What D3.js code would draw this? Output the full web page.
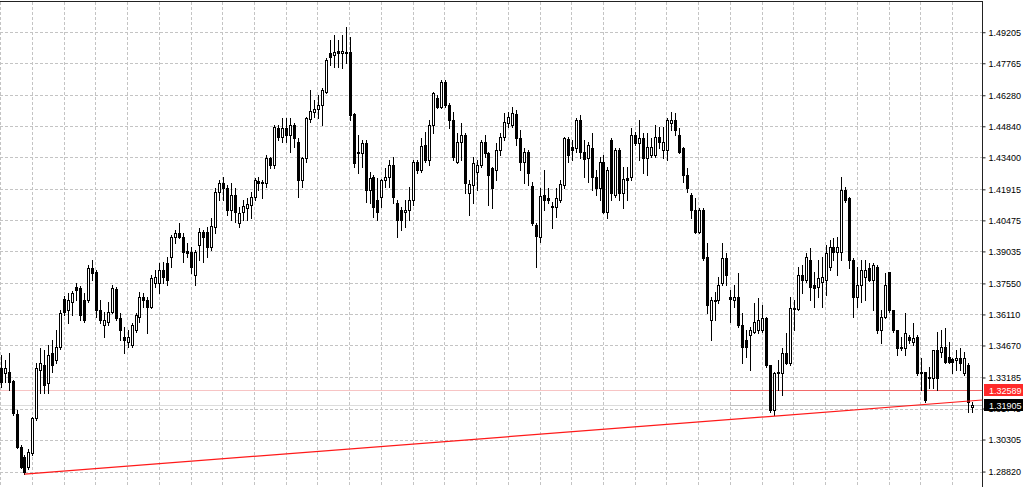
<!DOCTYPE html>
<html>
<head>
<meta charset="utf-8">
<script src="https://cdnjs.cloudflare.com/ajax/libs/d3/7.8.5/d3.min.js"></script>
<style>
  html, body { margin: 0; padding: 0; background: #fff; }
  svg { display: block; }
</style>
</head>
<body>
<div id="chart"></div>
<script>
// candle prices, oldest first
const openP = [1.3363,1.3339,1.3344,1.3302,1.3149,1.2996,1.2950,1.2903,1.2968,1.3130,1.3353,1.3376,1.3293,1.3432,1.3400,1.3460,1.3683,1.3632,1.3669,1.3738,
  1.3734,1.3678,1.3678,1.3827,1.3808,1.3632,1.3562,1.3576,1.3622,1.3729,1.3594,1.3506,1.3483,1.3469,1.3539,1.3599,1.3692,1.3678,1.3645,1.3757,
  1.3757,1.3817,1.3850,1.3878,1.3970,1.3989,1.3970,1.3905,1.3901,1.3794,1.3933,1.3994,1.3994,1.3924,1.4017,1.4179,1.4221,1.4198,1.4096,1.4165,
  1.4035,1.4086,1.4105,1.4119,1.4156,1.4230,1.4221,1.4221,1.4337,1.4304,1.4476,1.4434,1.4476,1.4444,1.4490,1.4411,1.4235,1.4337,1.4518,1.4550,
  1.4564,1.4583,1.4643,1.4824,1.4815,1.4833,1.4824,1.4829,1.4829,1.4541,1.4365,1.4360,1.4406,1.4188,1.4249,1.4142,1.4156,1.4235,1.4249,1.4304,
  1.4128,1.4096,1.4086,1.4096,1.4142,1.4318,1.4281,1.4397,1.4328,1.4490,1.4615,1.4574,1.4690,1.4583,1.4513,1.4318,1.4411,1.4444,1.4175,1.4212,
  1.4272,1.4304,1.4411,1.4360,1.4290,1.4281,1.4374,1.4434,1.4499,1.4490,1.4541,1.4430,1.4318,1.4365,1.4207,1.4026,1.3970,1.4165,1.4151,1.4114,
  1.4110,1.4142,1.4212,1.4425,1.4388,1.4383,1.4513,1.4365,1.4337,1.4383,1.4249,1.4198,1.4318,1.4086,1.4420,1.4165,1.4374,1.4175,1.4244,1.4249,
  1.4444,1.4406,1.4430,1.4337,1.4351,1.4351,1.4434,1.4374,1.4374,1.4499,1.4513,1.4444,1.4383,1.4258,1.4165,1.4096,1.3994,1.4096,1.3878,1.3585,
  1.3673,1.3678,1.3757,1.3873,1.3692,1.3678,1.3692,1.3562,1.3492,1.3516,1.3530,1.3539,1.3539,1.3594,1.3376,1.3168,1.3344,1.3339,1.3432,1.3386,
  1.3636,1.3636,1.3794,1.3771,1.3864,1.3748,1.3738,1.3762,1.3771,1.3831,1.3924,1.3901,1.3901,1.4188,1.4151,1.3864,1.3692,1.3748,1.3785,1.3827,
  1.3771,1.3831,1.3539,1.3599,1.3808,1.3632,1.3539,1.3460,1.3455,1.3506,1.3483,1.3506,1.3344,1.3344,1.3316,1.3316,1.3446,1.3437,1.3460,1.3414,
  1.3404,1.3400,1.3409,1.3339,1.3376,1.3181];
const highP = [1.3423,1.3400,1.3432,1.3307,1.3168,1.3005,1.2959,1.2986,1.3135,1.3386,1.3455,1.3446,1.3469,1.3492,1.3539,1.3632,1.3697,1.3711,1.3720,1.3757,
  1.3743,1.3711,1.3840,1.3864,1.3817,1.3678,1.3622,1.3669,1.3748,1.3738,1.3618,1.3553,1.3539,1.3571,1.3618,1.3715,1.3711,1.3692,1.3794,1.3817,
  1.3850,1.3854,1.3878,1.3980,1.4003,1.4035,1.3989,1.3943,1.3924,1.3910,1.4012,1.4003,1.4017,1.4058,1.4198,1.4235,1.4249,1.4212,1.4221,1.4198,
  1.4110,1.4142,1.4151,1.4179,1.4244,1.4249,1.4235,1.4351,1.4342,1.4490,1.4490,1.4523,1.4523,1.4523,1.4499,1.4430,1.4342,1.4527,1.4652,1.4606,
  1.4629,1.4662,1.4801,1.4884,1.4908,1.4884,1.4908,1.4945,1.4898,1.4546,1.4444,1.4420,1.4420,1.4272,1.4258,1.4244,1.4239,1.4290,1.4328,1.4342,
  1.4142,1.4110,1.4142,1.4202,1.4328,1.4328,1.4430,1.4458,1.4513,1.4643,1.4629,1.4699,1.4699,1.4592,1.4550,1.4453,1.4499,1.4453,1.4235,1.4342,
  1.4328,1.4420,1.4444,1.4365,1.4295,1.4406,1.4453,1.4546,1.4550,1.4574,1.4560,1.4467,1.4383,1.4374,1.4226,1.4035,1.4198,1.4281,1.4198,1.4133,
  1.4198,1.4235,1.4434,1.4434,1.4420,1.4523,1.4536,1.4420,1.4411,1.4453,1.4281,1.4342,1.4351,1.4295,1.4430,1.4383,1.4383,1.4295,1.4295,1.4476,
  1.4458,1.4513,1.4453,1.4453,1.4430,1.4490,1.4481,1.4481,1.4523,1.4550,1.4546,1.4476,1.4388,1.4290,1.4175,1.4151,1.4105,1.4105,1.3943,1.3692,
  1.3715,1.3785,1.3943,1.3896,1.3724,1.3748,1.3803,1.3618,1.3539,1.3553,1.3664,1.3687,1.3655,1.3599,1.3376,1.3344,1.3400,1.3455,1.3525,1.3692,
  1.3678,1.3831,1.3840,1.3896,1.3919,1.3808,1.3864,1.3878,1.3933,1.3956,1.3966,1.3970,1.4249,1.4202,1.4156,1.3873,1.3831,1.3864,1.3864,1.3850,
  1.3850,1.3840,1.3632,1.3803,1.3808,1.3632,1.3539,1.3506,1.3618,1.3516,1.3571,1.3516,1.3409,1.3344,1.3367,1.3446,1.3530,1.3539,1.3548,1.3483,
  1.3409,1.3446,1.3455,1.3437,1.3386,1.3205];
const lowP = [1.3274,1.3298,1.3260,1.3144,1.2991,1.2899,1.2870,1.2894,1.2959,1.3121,1.3247,1.3247,1.3247,1.3344,1.3386,1.3451,1.3608,1.3571,1.3608,1.3678,
  1.3585,1.3576,1.3669,1.3771,1.3599,1.3571,1.3506,1.3562,1.3618,1.3585,1.3492,1.3432,1.3460,1.3460,1.3530,1.3576,1.3645,1.3525,1.3641,1.3738,
  1.3711,1.3757,1.3748,1.3831,1.3943,1.3966,1.3854,1.3878,1.3803,1.3748,1.3864,1.3854,1.3878,1.3910,1.3989,1.4142,1.4142,1.4072,1.4049,1.4040,
  1.4017,1.4049,1.4049,1.4058,1.4142,1.4188,1.4151,1.4202,1.4290,1.4290,1.4420,1.4411,1.4411,1.4365,1.4388,1.4156,1.4202,1.4318,1.4504,1.4527,
  1.4523,1.4490,1.4638,1.4768,1.4759,1.4759,1.4754,1.4778,1.4513,1.4295,1.4267,1.4295,1.4133,1.4128,1.4063,1.4049,1.4110,1.4202,1.4202,1.4128,
  1.3970,1.4003,1.4017,1.4049,1.4119,1.4267,1.4272,1.4318,1.4304,1.4453,1.4569,1.4569,1.4574,1.4476,1.4328,1.4314,1.4328,1.4175,1.4072,1.4128,
  1.4188,1.4295,1.4342,1.4119,1.4105,1.4235,1.4351,1.4420,1.4481,1.4481,1.4397,1.4281,1.4221,1.4212,1.4026,1.3831,1.3947,1.4096,1.4128,1.4012,
  1.4063,1.4133,1.4198,1.4318,1.4328,1.4365,1.4337,1.4249,1.4226,1.4188,1.4165,1.4142,1.4082,1.4058,1.4142,1.4156,1.4142,1.4105,1.4142,1.4235,
  1.4397,1.4328,1.4267,1.4258,1.4342,1.4342,1.4383,1.4337,1.4328,1.4467,1.4444,1.4360,1.4226,1.4179,1.4058,1.3989,1.3989,1.3864,1.3618,1.3492,
  1.3585,1.3664,1.3748,1.3748,1.3576,1.3645,1.3553,1.3386,1.3413,1.3353,1.3525,1.3525,1.3530,1.3367,1.3158,1.3144,1.3260,1.3237,1.3381,1.3376,
  1.3539,1.3632,1.3711,1.3762,1.3678,1.3645,1.3692,1.3645,1.3701,1.3817,1.3864,1.3794,1.3864,1.4133,1.3827,1.3599,1.3645,1.3669,1.3678,1.3766,
  1.3632,1.3525,1.3478,1.3594,1.3622,1.3530,1.3423,1.3446,1.3423,1.3478,1.3469,1.3330,1.3260,1.3205,1.3270,1.3270,1.3260,1.3414,1.3386,1.3386,
  1.3339,1.3353,1.3353,1.3330,1.3158,1.3158];
const closeP = [1.3298,1.3363,1.3298,1.3154,1.2996,1.2903,1.2880,1.2973,1.3130,1.3363,1.3386,1.3284,1.3423,1.3376,1.3460,1.3618,1.3622,1.3678,1.3711,1.3724,
  1.3608,1.3585,1.3827,1.3803,1.3632,1.3585,1.3585,1.3622,1.3734,1.3594,1.3539,1.3492,1.3506,1.3562,1.3608,1.3692,1.3678,1.3645,1.3780,1.3785,
  1.3817,1.3785,1.3771,1.3970,1.3989,1.3970,1.3901,1.3896,1.3831,1.3901,1.3994,1.3970,1.3924,1.4021,1.4179,1.4221,1.4198,1.4096,1.4165,1.4086,
  1.4082,1.4114,1.4123,1.4156,1.4235,1.4221,1.4226,1.4337,1.4304,1.4481,1.4434,1.4476,1.4444,1.4490,1.4430,1.4235,1.4337,1.4523,1.4555,1.4564,
  1.4583,1.4652,1.4792,1.4806,1.4829,1.4824,1.4833,1.4824,1.4536,1.4314,1.4360,1.4406,1.4188,1.4244,1.4110,1.4086,1.4235,1.4249,1.4304,1.4156,
  1.4049,1.4049,1.4096,1.4142,1.4318,1.4281,1.4392,1.4328,1.4490,1.4638,1.4574,1.4690,1.4583,1.4513,1.4342,1.4411,1.4444,1.4221,1.4216,1.4314,
  1.4304,1.4411,1.4360,1.4258,1.4198,1.4374,1.4434,1.4504,1.4527,1.4546,1.4430,1.4318,1.4365,1.4267,1.4035,1.3975,1.4161,1.4142,1.4142,1.4110,
  1.4151,1.4216,1.4430,1.4351,1.4374,1.4513,1.4365,1.4332,1.4397,1.4249,1.4198,1.4318,1.4086,1.4281,1.4175,1.4374,1.4175,1.4239,1.4235,1.4444,
  1.4406,1.4430,1.4337,1.4388,1.4388,1.4434,1.4411,1.4411,1.4513,1.4513,1.4467,1.4365,1.4258,1.4198,1.4096,1.3994,1.4096,1.3873,1.3655,1.3678,
  1.3678,1.3748,1.3873,1.3794,1.3683,1.3692,1.3562,1.3460,1.3460,1.3539,1.3576,1.3585,1.3594,1.3376,1.3168,1.3339,1.3339,1.3432,1.3386,1.3641,
  1.3641,1.3794,1.3771,1.3878,1.3738,1.3734,1.3780,1.3785,1.3896,1.3924,1.3901,1.3924,1.4188,1.4142,1.3864,1.3692,1.3748,1.3817,1.3817,1.3771,
  1.3840,1.3539,1.3599,1.3748,1.3632,1.3539,1.3455,1.3455,1.3525,1.3492,1.3502,1.3339,1.3339,1.3214,1.3321,1.3446,1.3316,1.3460,1.3390,1.3390,
  1.3390,1.3409,1.3386,1.3409,1.3205,1.31905];

// right price scale labels
const priceTicks = [1.49205, 1.47765, 1.46280, 1.44840, 1.43400, 1.41915, 1.40475, 1.39035,
  1.37550, 1.36110, 1.34670, 1.33185, 1.31745, 1.30305, 1.28820];

// drawn objects
const levelPrice = 1.32589;      // horizontal line
const levelFrom = 184;           // bar where the bright part starts
const bidPrice = 1.31905;        // last price
const trendFrom = [6, 1.2870];   // [bar, price]
const trendTo = [247.5, 1.3214];

const W = 1023, H = 487, axisX = 982;

const svg = d3.select("#chart").append("svg")
  .attr("width", W).attr("height", H)
  .style("font-family", "'Liberation Sans', Arial, sans-serif");

const x = d3.scaleLinear().domain([0, openP.length - 1]).range([0.7, 972.3]);
const y = d3.scaleLinear().domain([1.28103, 1.5070]).range([H, 0]);
const px = v => Math.round(v) + 0.5;

// grid
const grid = svg.append("g").attr("stroke", "#c4c4c4").attr("stroke-dasharray", "3,2");
grid.selectAll("line.v")
  .data(d3.range(0, openP.length + 8, 8).filter(i => x(i) < axisX - 2))
  .join("line")
  .attr("x1", d => px(x(d) - 0.5)).attr("x2", d => px(x(d) - 0.5))
  .attr("y1", 2).attr("y2", H);
grid.selectAll("line.h")
  .data(priceTicks)
  .join("line")
  .attr("x1", 0).attr("x2", axisX)
  .attr("y1", d => px(y(d))).attr("y2", d => px(y(d)));

// pale parts of the price lines
svg.append("line")
  .attr("x1", 0).attr("x2", axisX)
  .attr("y1", px(y(bidPrice))).attr("y2", px(y(bidPrice)))
  .attr("stroke", "#dcdcdc");
svg.append("line")
  .attr("x1", 0).attr("x2", axisX)
  .attr("y1", px(y(levelPrice))).attr("y2", px(y(levelPrice)))
  .attr("stroke", "#f7c4c4");
svg.append("line")
  .attr("x1", Math.round(x(levelFrom))).attr("x2", axisX)
  .attr("y1", px(y(bidPrice))).attr("y2", px(y(bidPrice)))
  .attr("stroke", "#c0c0c0");
svg.append("line")
  .attr("x1", Math.round(x(levelFrom))).attr("x2", axisX)
  .attr("y1", px(y(levelPrice))).attr("y2", px(y(levelPrice)))
  .attr("stroke", "#f26a6a");

// candles
const bars = d3.range(openP.length).map(i => ({
  i, o: openP[i], h: highP[i], l: lowP[i], c: closeP[i]
}));

const cg = svg.append("g");
const candle = cg.selectAll("g").data(bars).join("g");

candle.append("line")
  .attr("x1", d => px(x(d.i))).attr("x2", d => px(x(d.i)))
  .attr("y1", d => Math.round(y(d.h))).attr("y2", d => Math.round(y(d.l)) + 1)
  .attr("stroke", "#000");

candle.filter(d => d.c < d.o).append("rect")
  .attr("x", d => Math.round(x(d.i)) - 1)
  .attr("width", 3)
  .attr("y", d => Math.round(y(d.o)))
  .attr("height", d => Math.max(1, Math.round(y(d.c)) - Math.round(y(d.o)) + 1))
  .attr("fill", "#000");

candle.filter(d => d.c >= d.o).append("rect")
  .attr("x", d => Math.round(x(d.i)) - 0.5)
  .attr("width", 2)
  .attr("y", d => Math.round(y(d.c)) + 0.5)
  .attr("height", d => Math.max(0.01, Math.round(y(d.o)) - Math.round(y(d.c))))
  .attr("fill", "#fff")
  .attr("stroke", "#000");

// trend line
svg.append("line")
  .attr("x1", x(trendFrom[0])).attr("y1", y(trendFrom[1]))
  .attr("x2", x(trendTo[0])).attr("y2", y(trendTo[1]))
  .attr("stroke", "#ff1a1a").attr("stroke-width", 1.2);

// frame
svg.append("line").attr("x1", 0).attr("x2", axisX + 0.5).attr("y1", 1.5).attr("y2", 1.5)
  .attr("stroke", "#222");
svg.append("line").attr("x1", axisX + 0.5).attr("x2", axisX + 0.5).attr("y1", 1).attr("y2", H)
  .attr("stroke", "#222");

// price axis
const axis = svg.append("g").attr("transform", `translate(${axisX + 0.5},0)`)
  .call(d3.axisRight(y).tickValues(priceTicks).tickSize(3).tickPadding(3)
    .tickFormat(d3.format(".5f")));
axis.select(".domain").remove();
axis.selectAll(".tick line").attr("stroke", "#222");
axis.selectAll(".tick text")
  .attr("fill", "#000")
  .style("font-size", "9px")
  .style("font-family", "'Liberation Sans', Arial, sans-serif");

// price boxes
const tags = [
  { p: levelPrice, bg: "#ff2a2a" },
  { p: bidPrice, bg: "#000" }
];
const tag = svg.selectAll("g.tag").data(tags).join("g")
  .attr("transform", d => `translate(${axisX + 2},${Math.round(y(d.p))})`);
tag.append("rect")
  .attr("x", 0).attr("y", -6).attr("width", W - axisX - 2).attr("height", 12)
  .attr("fill", d => d.bg);
tag.append("text")
  .attr("x", 5).attr("y", 3.5)
  .attr("fill", "#fff")
  .style("font-size", "9px")
  .text(d => d3.format(".5f")(d.p));
</script>
</body>
</html>
